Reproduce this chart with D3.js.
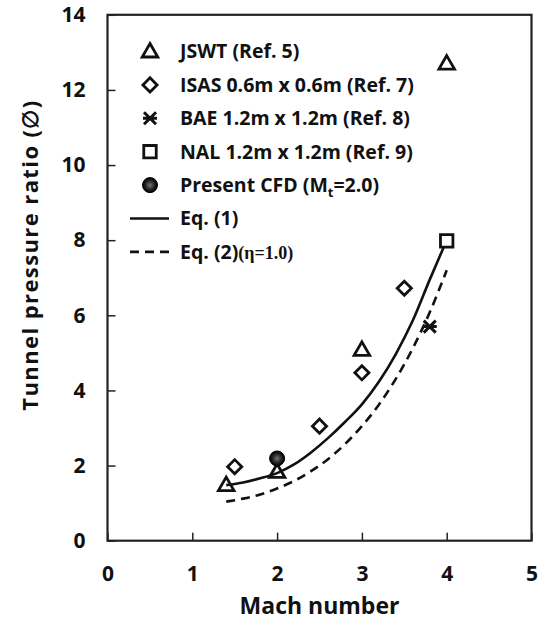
<!DOCTYPE html>
<html>
<head>
<meta charset="utf-8">
<script src="https://cdn.jsdelivr.net/npm/d3@7"></script>
<style>
  body { margin: 0; background: #fff; }
  text { font-family: "Open Sans", "Noto Sans", sans-serif; font-weight: bold; fill: #111; }
</style>
</head>
<body>
<div class="chart"></div>
<script>
// values
const jswtMach = [1.4, 2.0, 3.0, 4.0];
const jswtRatio = [1.48, 1.83, 5.08, 12.7];
const isasMach = [1.5, 2.5, 3.0, 3.5];
const isasRatio = [1.97, 3.05, 4.47, 6.72];
const baeMach = [3.8];
const baeRatio = [5.7];
const nalMach = [4.0];
const nalRatio = [7.98];
const cfdMach = [2.0];
const cfdRatio = [2.19];

const eqMach = [1.4, 1.6, 1.8, 2.0, 2.2, 2.4, 2.6, 2.8, 3.0, 3.2, 3.4, 3.6, 3.8, 4.0];
const eq1Ratio = [1.48, 1.55, 1.66, 1.80, 2.03, 2.35, 2.73, 3.16, 3.63, 4.23, 4.97, 5.86, 6.95, 8.0];
const eq2Ratio = [1.04, 1.12, 1.23, 1.39, 1.59, 1.85, 2.17, 2.57, 3.05, 3.62, 4.31, 5.12, 6.08, 7.2];

const xTicks = [0, 1, 2, 3, 4, 5];
const yTicks = [0, 2, 4, 6, 8, 10, 12, 14];
const legendLabels = ["JSWT (Ref. 5)", "ISAS 0.6m x 0.6m (Ref. 7)", "BAE 1.2m x 1.2m (Ref. 8)",
                      "NAL 1.2m x 1.2m (Ref. 9)", "Present CFD (M", "Eq. (1)", "Eq. (2)"];

const width = 545, height = 631;
const svg = d3.select('.chart')
              .append('svg')
              .attr('width', width)
              .attr('height', height);

const x = d3.scaleLinear().domain([0, 5]).range([107.5, 531.5]);
const y = d3.scaleLinear().domain([0, 14]).range([540.7, 14.8]);

// gradient for the CFD dot
const grad = svg.append('defs').append('radialGradient').attr('id', 'cfd');
grad.append('stop').attr('offset', '0%').attr('stop-color', '#777');
grad.append('stop').attr('offset', '35%').attr('stop-color', '#444');
grad.append('stop').attr('offset', '70%').attr('stop-color', '#1a1a1a');
grad.append('stop').attr('offset', '100%').attr('stop-color', '#000');

// axes
const xAxis = svg.append('g')
  .attr('transform', `translate(0,${y(0)})`)
  .call(d3.axisBottom(x).tickValues(xTicks).tickFormat(d3.format('d'))
          .tickSizeInner(-8).tickSizeOuter(0).tickPadding(25));
const yAxis = svg.append('g')
  .attr('transform', `translate(${x(0)},0)`)
  .call(d3.axisLeft(y).tickValues(yTicks).tickFormat(d3.format('d'))
          .tickSizeInner(-8).tickSizeOuter(0).tickPadding(22));

[xAxis, yAxis].forEach(g => {
  g.select('.domain').remove();
  g.selectAll('line').attr('stroke', '#222').attr('stroke-width', 1.5);
  g.selectAll('text').attr('font-size', 21).attr('font-family', null).attr('fill', '#111');
});

// frame
svg.append('rect')
  .attr('x', x(0)).attr('y', y(14))
  .attr('width', x(5) - x(0)).attr('height', y(0) - y(14))
  .attr('fill', 'none').attr('stroke', '#222').attr('stroke-width', 2.2);

// axis titles
svg.append('text')
  .attr('x', (x(0) + x(5)) / 2).attr('y', 614)
  .attr('text-anchor', 'middle').attr('font-size', 23)
  .text('Mach number');
svg.append('text')
  .attr('transform', 'translate(38,255) rotate(-90)')
  .attr('text-anchor', 'middle').attr('font-size', 22).attr('letter-spacing', 1.4)
  .text('Tunnel pressure ratio (\u2205)');

// curves
const line = d3.line()
  .x((d, i) => x(eqMach[i]))
  .y(d => y(d))
  .curve(d3.curveMonotoneX);
svg.append('path').datum(eq1Ratio)
  .attr('d', line).attr('fill', 'none').attr('stroke', '#111').attr('stroke-width', 2.6);
svg.append('path').datum(eq2Ratio)
  .attr('d', line).attr('fill', 'none').attr('stroke', '#111').attr('stroke-width', 2.6)
  .attr('stroke-dasharray', '9,6');

// marker drawers
const triangle = d3.symbol().type(d3.symbolTriangle).size(105);
const diamond = d3.symbol().type(d3.symbolSquare).size(100);
const square = d3.symbol().type(d3.symbolSquare).size(155);
function drawTri(g, cx, cy) {
  g.append('path').attr('d', triangle).attr('transform', `translate(${cx},${cy + 1})`)
    .attr('fill', 'none').attr('stroke', '#111').attr('stroke-width', 2.8);
}
function drawDia(g, cx, cy) {
  g.append('path').attr('d', diamond).attr('transform', `translate(${cx},${cy}) rotate(45)`)
    .attr('fill', 'none').attr('stroke', '#111').attr('stroke-width', 2.8);
}
function drawSq(g, cx, cy) {
  g.append('path').attr('d', square).attr('transform', `translate(${cx},${cy})`)
    .attr('fill', '#fff').attr('stroke', '#111').attr('stroke-width', 2.8);
}
function drawCross(g, cx, cy) {
  const s = 6;
  g.append('path')
    .attr('d', `M${cx - s},${cy - s}L${cx + s},${cy + s}M${cx - s},${cy + s}L${cx + s},${cy - s}M${cx - s - 1},${cy}L${cx + s + 1},${cy}`)
    .attr('stroke', '#111').attr('stroke-width', 3);
}
function drawDot(g, cx, cy) {
  g.append('circle').attr('cx', cx).attr('cy', cy).attr('r', 7.5)
    .attr('fill', 'url(#cfd)').attr('stroke', '#000').attr('stroke-width', 1);
}

// data points
const pts = svg.append('g');
jswtMach.forEach((m, i) => drawTri(pts, x(m), y(jswtRatio[i])));
isasMach.forEach((m, i) => drawDia(pts, x(m), y(isasRatio[i])));
baeMach.forEach((m, i) => drawCross(pts, x(m), y(baeRatio[i])));
nalMach.forEach((m, i) => drawSq(pts, x(m), y(nalRatio[i])));
cfdMach.forEach((m, i) => drawDot(pts, x(m), y(cfdRatio[i])));

// legend
const lg = svg.append('g');
const lgTop = 51.5, lgStep = 33.4, lgX = 150, lgTextX = 180;
const drawers = [drawTri, drawDia, drawCross, drawSq, drawDot];
legendLabels.forEach((lab, i) => {
  const ly = lgTop + i * lgStep;
  if (i < 5) drawers[i](lg, lgX, ly);
  else {
    lg.append('line').attr('x1', 130).attr('x2', 169).attr('y1', ly).attr('y2', ly)
      .attr('stroke', '#111').attr('stroke-width', 2.6)
      .attr('stroke-dasharray', i === 6 ? '9,6' : null);
  }
  const t = lg.append('text').attr('x', lgTextX).attr('y', ly).attr('dy', '0.35em')
    .attr('font-size', 19.5).text(lab);
  if (i === 4) {
    t.append('tspan').attr('font-size', 13).attr('dy', '0.4em').text('t');
    t.append('tspan').attr('dy', '-0.28em').text('=2.0)');
  }
  if (i === 6) {
    t.append('tspan').attr('font-family', '"Liberation Serif", serif').attr('font-size', 18).text('(\u03b7=1.0)');
  }
});
</script>
</body>
</html>
